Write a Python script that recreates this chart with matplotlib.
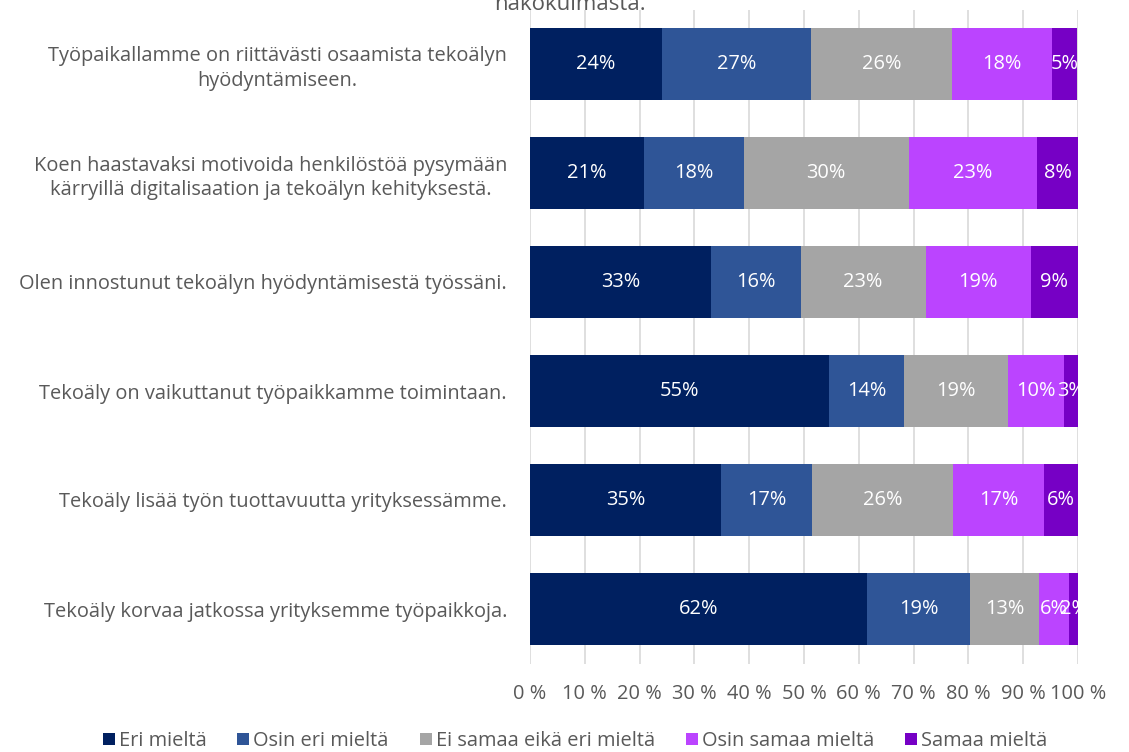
import matplotlib
matplotlib.use("Agg")
import matplotlib.pyplot as plt
import numpy as np

plt.rcParams['font.family'] = ['Open Sans', 'DejaVu Sans']

categories = [
    "Työpaikallamme on riittävästi osaamista tekoälyn\nhyödyntämiseen.",
    "Koen haastavaksi motivoida henkilöstöä pysymään\nkärryillä digitalisaation ja tekoälyn kehityksestä.",
    "Olen innostunut tekoälyn hyödyntämisestä työssäni.",
    "Tekoäly on vaikuttanut työpaikkamme toimintaan.",
    "Tekoäly lisää työn tuottavuutta yrityksessämme.",
    "Tekoäly korvaa jatkossa yrityksemme työpaikkoja.",
]
series_names = ["Eri mieltä", "Osin eri mieltä", "Ei samaa eikä eri mieltä",
                "Osin samaa mieltä", "Samaa mieltä"]
eri = [24.1, 20.8, 33.0, 54.6, 34.9, 61.5]
osin_eri = [27.2, 18.2, 16.4, 13.7, 16.6, 18.8]
neutral = [25.7, 30.1, 22.8, 19.0, 25.7, 12.6]
osin_samaa = [18.2, 23.4, 19.2, 10.2, 16.6, 5.5]
samaa = [4.7, 7.5, 8.6, 2.6, 6.2, 1.6]
x_ticks = [0, 10, 20, 30, 40, 50, 60, 70, 80, 90, 100]
title_text = "näkökulmasta."

series = [eri, osin_eri, neutral, osin_samaa, samaa]
colors = ["#002060", "#2F5597", "#A5A5A5", "#BB44FF", "#7600C5"]
text_color = "#595959"
fs = 14.4

fig = plt.figure(figsize=(11.29, 7.52), dpi=100)
ax = fig.add_axes([530/1129, 1-663.5/752, 548/1129, 654/752])

y = np.arange(len(categories))
left = np.zeros(len(categories))
for name, vals, c in zip(series_names, series, colors):
    vals = np.array(vals)
    ax.barh(y, vals, left=left, height=0.66, color=c, label=name, zorder=3)
    for yi, l, v in zip(y, left, vals):
        ax.text(l + v/2, yi, f"{v:.0f}%", ha='center', va='center',
                color='white', fontsize=fs, zorder=4)
    left += vals

ax.set_xlim(0, 100)
ax.set_ylim(len(categories) - 0.5, -0.5)
ax.set_yticks(y)
ax.set_yticklabels(categories, fontsize=fs, color=text_color,
                   multialignment='center', linespacing=1.3)
ax.set_xticks(x_ticks)
ax.set_xticklabels([f"{t} %" for t in x_ticks], fontsize=fs, color=text_color)
ax.tick_params(axis='y', length=0, pad=16.5)
ax.tick_params(axis='x', length=0, pad=15)
ax.grid(axis='x', color='#D9D9D9', linewidth=1.2, zorder=0)
for s in ax.spines.values():
    s.set_visible(False)

fig.text(570/1129, 1-4/752, title_text, ha='center', va='center',
         fontsize=16, color=text_color)

handles, labels = ax.get_legend_handles_labels()
fig.legend(handles, labels, loc='center', bbox_to_anchor=(575/1129, 1-741/752),
           ncol=5, frameon=False, fontsize=fs, labelcolor=text_color,
           handlelength=0.6, handleheight=0.6, handletextpad=0.2, columnspacing=1.55)

fig.savefig("out.png", dpi=100)
